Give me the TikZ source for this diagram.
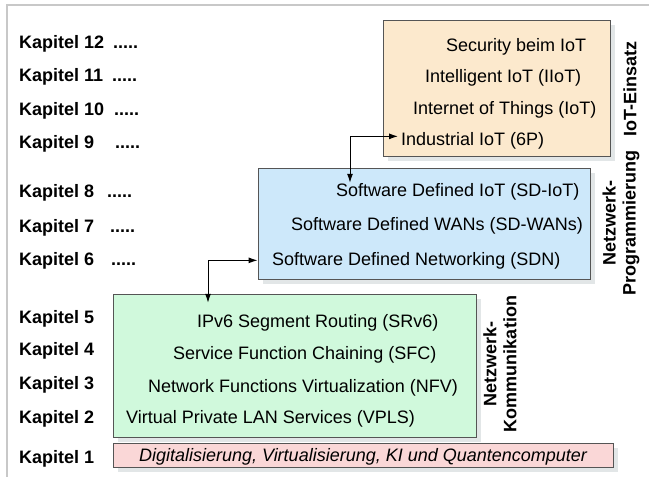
\documentclass[tikz,border=0pt]{standalone}
\usepackage{fontspec}
\setmainfont{Liberation Sans}
\usetikzlibrary{arrows.meta,calc,backgrounds}
\definecolor{orangefill}{RGB}{252,233,205}
\definecolor{bluefill}{RGB}{205,232,250}
\definecolor{greenfill}{RGB}{208,249,220}
\definecolor{pinkfill}{RGB}{250,215,215}
\definecolor{boxline}{RGB}{85,85,85}
\definecolor{shadowc}{RGB}{226,230,231}
\definecolor{framec}{RGB}{200,200,200}
\begin{document}
\begin{tikzpicture}[x=1pt,y=-1pt,
  every node/.style={font=\fontsize{18}{20}\selectfont, inner sep=0pt},
  panel/.style={draw=boxline, line width=0.9pt, rectangle},
  item/.style={anchor=base west},
  kap/.style={anchor=base west, font=\fontsize{18}{20}\selectfont\bfseries},
  side/.style={rotate=90, align=center, font=\fontsize{18}{20}\selectfont\bfseries},
  conn/.style={{Latex[length=9pt,width=6pt]}-{Latex[length=9pt,width=6pt]}, line width=1pt},
  shadowbox/.style={fill=shadowc}]
\useasboundingbox (0,0) rectangle (649,477);
\draw[framec, line width=1.5pt] (7,477) -- (7,5) -- (649,5);

% panels
\node[panel, fill=orangefill, minimum width=227pt, minimum height=136pt] (iotbox) at (496.5,88) {};
\node[panel, fill=bluefill, minimum width=332pt, minimum height=111pt] (bluebox) at (424,223.5) {};
\node[panel, fill=greenfill, minimum width=363pt, minimum height=143pt] (greenbox) at (294.5,365.5) {};
\node[panel, fill=pinkfill, minimum width=500pt, minimum height=24pt] (pinkbox) at (363,455) {};

\begin{scope}[on background layer]
  \foreach \b in {iotbox,bluebox,greenbox,pinkbox}{
    \fill[shadowbox] ($(\b.south west)+(5pt,-5pt)$) rectangle ($(\b.north east)+(5pt,-5pt)$);
  }
\end{scope}

% IoT texts
\node[item] (sec) at (446,51) {Security beim IoT};
\node[item] (iiot) at (425,82) {Intelligent IoT (IIoT)};
\node[item] (inet) at (413,114) {Internet of Things (IoT)};
\node[item] (ind) at (401,145) {Industrial IoT (6P)};

% SD texts
\node[item] (sdiot) at (336,196) {Software Defined IoT (SD-IoT)};
\node[item] (sdwan) at (291,230) {Software Defined WANs (SD-WANs)};
\node[item] (sdn) at (272,265) {Software Defined Networking (SDN)};

% green texts
\node[item] (srv6) at (197,327) {IPv6 Segment Routing (SRv6)};
\node[item] (sfc) at (173,359) {Service Function Chaining (SFC)};
\node[item] (nfv) at (148,392) {Network Functions Virtualization (NFV)};
\node[item] (vpls) at (126,423) {Virtual Private LAN Services (VPLS)};

% pink text
\node[anchor=base, font=\fontsize{18}{20}\selectfont\itshape] (digi) at (363,461) {Digitalisierung, Virtualisierung, KI und Quantencomputer};

% Kapitel labels
\node[kap] (k12) at (19,48) {Kapitel 12};
\node[kap] (d12) at (113,48) {.....};
\node[kap] (k11) at (19,81) {Kapitel 11};
\node[kap] (d11) at (112,81) {.....};
\node[kap] (k10) at (19,115) {Kapitel 10};
\node[kap] (d10) at (114,115) {.....};
\node[kap] (k9) at (19,148) {Kapitel 9};
\node[kap] (d9) at (115,148) {.....};
\node[kap] (k8) at (19,197) {Kapitel 8};
\node[kap] (d8) at (107,197) {.....};
\node[kap] (k7) at (19,232) {Kapitel 7};
\node[kap] (d7) at (110,232) {.....};
\node[kap] (k6) at (19,265) {Kapitel 6};
\node[kap] (d6) at (111,265) {.....};
\node[kap] (k5) at (19,323) {Kapitel 5};
\node[kap] (k4) at (19,355) {Kapitel 4};
\node[kap] (k3) at (19,389) {Kapitel 3};
\node[kap] (k2) at (19,423) {Kapitel 2};
\node[kap] (k1) at (19,463) {Kapitel 1};

% side labels
\node[side] (einsatz) at (630,89) {IoT-Einsatz};
\node[side] (prog) at (621,223) {Netzwerk-\\Programmierung};
\node[side] (komm) at (500,364) {Netzwerk-\\Kommunikation};

% connectors
\draw[conn] ([xshift=14pt]sdiot.north west) |- ([xshift=-3pt,yshift=4pt]ind.west);
\draw[conn] (bluebox.west |- sdn.west) -| ([xshift=11pt,yshift=11pt]srv6.north west);
\end{tikzpicture}
\end{document}
